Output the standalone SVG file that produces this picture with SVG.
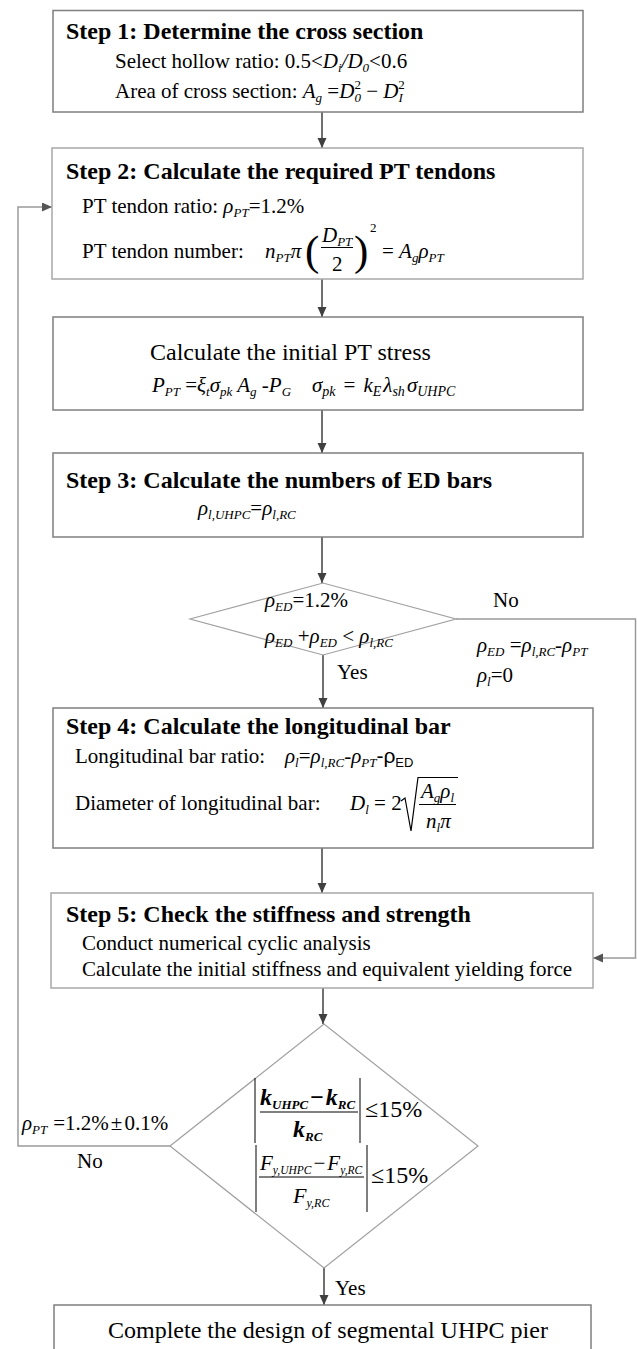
<svg xmlns="http://www.w3.org/2000/svg" width="637" height="1349" viewBox="0 0 637 1349">
<style>
text{font-family:"Liberation Serif","Times New Roman",serif;fill:#000}
.t{font-size:24px;font-weight:bold}
.b{font-size:21px}
.m{font-size:21px;font-style:italic}
.s{font-size:13px}
.box{fill:#fff;stroke:#7f7f7f;stroke-width:1.5}
.lbox{fill:#fff;stroke:#a8a8a8;stroke-width:1.5}
.dia{fill:#fff;stroke:#a0a0a0;stroke-width:1.2}
.arr{stroke:#404040;stroke-width:1.5;fill:none;marker-end:url(#ah)}
.loop{stroke:#9a9a9a;stroke-width:1.5;fill:none;marker-end:url(#ah2)}
.rule{stroke:#000;stroke-width:1}
</style>
<defs>
<marker id="ah" markerUnits="userSpaceOnUse" markerWidth="10" markerHeight="10" refX="10" refY="4.5" orient="auto"><path d="M0,0 L10,4.5 L0,9 z" fill="#404040"/></marker>
<marker id="ah2" markerUnits="userSpaceOnUse" markerWidth="10" markerHeight="10" refX="10" refY="4.5" orient="auto"><path d="M0,0 L10,4.5 L0,9 z" fill="#555"/></marker>
</defs>
<rect width="637" height="1349" fill="#fff"/>

<g id="connectors">
<path class="arr" d="M322,112 V148"/>
<path class="arr" d="M322,279 V317"/>
<path class="arr" d="M322,410 V453"/>
<path class="arr" d="M322,537 V583"/>
<path class="arr" d="M323,655 V708"/>
<path class="arr" d="M322,848 V893"/>
<path class="arr" d="M323,988 V1024"/>
<path class="arr" d="M324,1268 V1305"/>
<path class="loop" d="M456,619 H635.5 V958 H593"/>
<path class="loop" d="M170,1146 H18 V207 H52"/>
<text class="b" x="493" y="607">No</text>
<text class="b" x="337" y="679">Yes</text>
<text class="b" x="335" y="1295">Yes</text>
<text class="b" x="77" y="1168">No</text>
<text class="m" x="477" y="652">ρ<tspan class="m s" dy="4">ED</tspan><tspan dy="-4" font-style="normal"> =</tspan>ρ<tspan class="m s" dy="4">l,RC</tspan><tspan dy="-4" font-style="normal">-</tspan>ρ<tspan class="m s" dy="4">PT</tspan></text>
<text class="m" x="477" y="682">ρ<tspan class="m s" dy="4">l</tspan><tspan dy="-4" font-style="normal">=0</tspan></text>
<text class="m" x="22" y="1130" font-size="22">ρ<tspan class="s" dy="4">PT</tspan><tspan dy="-4" dx="6" font-style="normal">=1.2%</tspan><tspan dx="2" font-style="normal">±</tspan><tspan dx="2" font-style="normal">0.1%</tspan></text>
</g>

<g id="step1">
<rect class="box" x="53" y="10.5" width="530" height="101.5"/>
<text class="t" x="66" y="39">Step 1: Determine the cross section</text>
<text class="b" x="115" y="68">Select hollow ratio: 0.5&lt;<tspan class="m">D</tspan><tspan class="m s" dy="4">i</tspan><tspan class="m" dy="-4">/D</tspan><tspan class="m s" dy="4">0</tspan><tspan dy="-4">&lt;0.6</tspan></text>
<text class="b" x="115" y="98">Area of cross section: <tspan class="m">A</tspan><tspan class="m s" dy="4">g</tspan><tspan dy="-4"> =</tspan><tspan class="m">D</tspan><tspan class="m s" dy="4">0</tspan><tspan class="s" dx="-6.5" dy="-13">2</tspan><tspan dy="9"> − </tspan><tspan class="m">D</tspan><tspan class="m s" dy="4">I</tspan><tspan class="s" dx="-4.5" dy="-13">2</tspan></text>
</g>

<g id="step2">
<rect class="lbox" x="52" y="148" width="531" height="131"/>
<text class="t" x="66" y="179">Step 2: Calculate the required PT tendons</text>
<text class="b" x="82" y="213">PT tendon ratio: <tspan class="m">ρ</tspan><tspan class="m s" dy="4">PT</tspan><tspan dy="-4">=1.2%</tspan></text>
<text class="b" x="82" y="258">PT tendon number:</text>
<text class="m" x="265" y="258">n<tspan class="s" dy="4">PT</tspan><tspan dy="-4">π</tspan></text>
<text x="305" y="265" font-size="43">(</text>
<text class="m" x="322" y="242">D<tspan class="s" dy="4">PT</tspan></text>
<line class="rule" x1="321" y1="247.5" x2="353" y2="247.5"/>
<text class="b" x="332" y="271">2</text>
<text x="354" y="265" font-size="43">)</text>
<text class="s" x="370" y="232">2</text>
<text class="b" x="382" y="258">= <tspan class="m">A</tspan><tspan class="m s" dy="4">g</tspan><tspan class="m" dy="-4">ρ</tspan><tspan class="m s" dy="4">PT</tspan></text>
</g>

<g id="pt-stress">
<rect class="box" x="53" y="317" width="530" height="93"/>
<text x="150" y="360" font-size="24">Calculate the initial PT stress</text>
<text class="m" x="152" y="392" font-size="22">P<tspan class="s" dy="4">PT</tspan><tspan dy="-4" font-style="normal"> =</tspan>ξ<tspan class="s" dy="4">t</tspan><tspan dy="-4">σ</tspan><tspan class="s" dy="4">pk</tspan><tspan dy="-4"> A</tspan><tspan class="s" dy="4">g</tspan><tspan dy="-4" font-style="normal"> -</tspan>P<tspan class="s" dy="4">G</tspan></text>
<text class="m" x="312" y="392" font-size="23">σ<tspan font-size="14" dy="4">pk</tspan><tspan dy="-4" dx="8" font-style="normal">=</tspan><tspan dx="8">k</tspan><tspan font-size="14" dy="4">E</tspan><tspan dy="-4" dx="2">λ</tspan><tspan font-size="14" dy="4">sh</tspan><tspan dy="-4" dx="2">σ</tspan><tspan font-size="14" dy="4">UHPC</tspan></text>
</g>

<g id="step3">
<rect class="box" x="53" y="453" width="530" height="84"/>
<text class="t" x="66" y="488">Step 3: Calculate the numbers of ED bars</text>
<text class="m" x="198" y="515">ρ<tspan class="s" dy="4">l,UHPC</tspan><tspan dy="-4" font-style="normal">=</tspan>ρ<tspan class="s" dy="4">l,RC</tspan></text>
</g>

<g id="decision1">
<polygon class="dia" points="190,619 323,583 456,619 323,655"/>
<text class="m" x="265" y="607">ρ<tspan class="s" dy="4">ED</tspan><tspan dy="-4" font-style="normal">=1.2%</tspan></text>
<text class="m" x="265" y="643">ρ<tspan class="s" dy="4">ED</tspan><tspan dy="-4" font-style="normal"> +</tspan>ρ<tspan class="s" dy="4">ED</tspan><tspan dy="-4" font-style="normal"> &lt; </tspan>ρ<tspan class="s" dy="4">l,RC</tspan></text>
</g>

<g id="step4">
<rect class="box" x="53" y="708" width="540" height="140"/>
<text class="t" x="66" y="734">Step 4: Calculate the longitudinal bar</text>
<text class="b" x="75" y="763">Longitudinal bar ratio:</text>
<text class="m" x="285" y="763">ρ<tspan class="s" dy="4">l</tspan><tspan dy="-4" font-style="normal">=</tspan>ρ<tspan class="s" dy="4">l,RC</tspan><tspan dy="-4" font-style="normal">-</tspan>ρ<tspan class="s" dy="4">PT</tspan><tspan dy="-4" font-style="normal" font-family="Liberation Sans, Arial, sans-serif">-ρ</tspan><tspan class="s" dy="4" font-style="normal" font-family="Liberation Sans, Arial, sans-serif">ED</tspan></text>
<text class="b" x="75" y="810">Diameter of longitudinal bar:</text>
<text class="m" x="350" y="810">D<tspan class="s" dy="4">l</tspan><tspan dy="-4" font-style="normal"> = 2</tspan></text>
<polyline points="401,801 405,798 411,831 418,777.5 458,777.5" fill="none" stroke="#000" stroke-width="1.2"/>
<text class="m" x="421" y="798">A<tspan class="s" dy="4">g</tspan><tspan dy="-4">ρ</tspan><tspan class="s" dy="4">l</tspan></text>
<line class="rule" x1="419" y1="804.5" x2="456" y2="804.5"/>
<text class="m" x="426" y="828">n<tspan class="s" dy="4">l</tspan><tspan dy="-4">π</tspan></text>
</g>

<g id="step5">
<rect class="lbox" x="51" y="893" width="542" height="95"/>
<text class="t" x="66" y="922">Step 5: Check the stiffness and strength</text>
<text class="b" x="82" y="950">Conduct numerical cyclic analysis</text>
<text class="b" x="82" y="976">Calculate the initial stiffness and equivalent yielding force</text>
</g>

<g id="decision2">
<polygon class="dia" points="170,1146 324,1024 478,1146 324,1268"/>
<line class="rule" x1="255" y1="1078" x2="255" y2="1143" stroke-width="1.5"/>
<line class="rule" x1="360" y1="1078" x2="360" y2="1143" stroke-width="1.5"/>
<text x="260" y="1105" font-size="24" font-style="italic" font-weight="bold">k<tspan font-size="13" dy="4">UHPC</tspan><tspan dy="-4" dx="2" font-style="normal">−</tspan><tspan dx="2">k</tspan><tspan font-size="13" dy="4">RC</tspan></text>
<line class="rule" x1="260" y1="1112" x2="358" y2="1112" stroke-width="1.5"/>
<text x="293" y="1137" font-size="24" font-style="italic" font-weight="bold">k<tspan font-size="13" dy="4">RC</tspan></text>
<text x="365" y="1117" font-size="24">≤15%</text>
<line class="rule" x1="256" y1="1145" x2="256" y2="1212" stroke-width="1.5"/>
<line class="rule" x1="367" y1="1145" x2="367" y2="1212" stroke-width="1.5"/>
<text x="260" y="1170" font-size="21" font-style="italic">F<tspan font-size="11.5" dy="4">y,UHPC</tspan><tspan dy="-4" dx="2" font-style="normal">−</tspan><tspan dx="2">F</tspan><tspan font-size="11.5" dy="4">y,RC</tspan></text>
<line class="rule" x1="259" y1="1177" x2="364" y2="1177" stroke-width="1.5"/>
<text x="293" y="1203" font-size="22" font-style="italic">F<tspan font-size="12" dy="4">y,RC</tspan></text>
<text x="371" y="1183" font-size="24">≤15%</text>
</g>

<g id="final">
<rect class="box" x="54" y="1305" width="537" height="60"/>
<text x="108" y="1338" font-size="24">Complete the design of segmental UHPC pier</text>
</g>
</svg>
